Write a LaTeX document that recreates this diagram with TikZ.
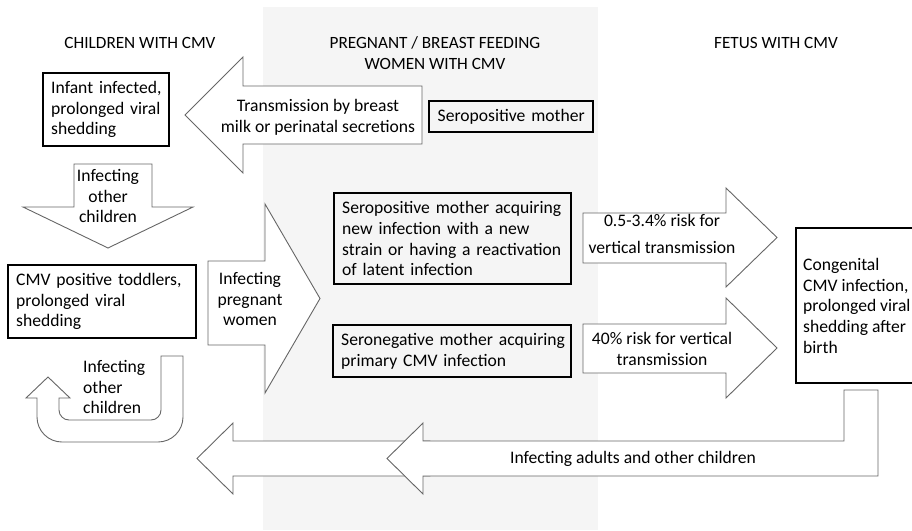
\documentclass[tikz,border=0pt]{standalone}
\usepackage{fontspec}
\setmainfont{Carlito}
\usetikzlibrary{calc}
\hyphenpenalty=10000

\tikzset{
	box/.style={draw=black, line width=2.4pt, inner sep=8pt, align=left, anchor=north west},
	blockarrow/.style={draw=black!60, fill=white, line width=0.9pt},
	arrowtext/.style={align=center, inner sep=0pt},
	headtext/.style={align=center, inner sep=0pt, font=\fontsize{17.2}{20.7}\selectfont},
}

\begin{document}
\begin{tikzpicture}[x=1pt, y=-1pt, font=\fontsize{17.6}{20.7}\selectfont]
		%%%%% START %%%%%
		\useasboundingbox (0,0) rectangle (912,530);
		
		\fill[black!4] (263,7) rectangle (598,530);
		
		\node[headtext] (kids) at (140,43) {CHILDREN WITH CMV};
		\node[headtext] (mothers) at (435,53) {PREGNANT / BREAST FEEDING\\ WOMEN WITH CMV};
		\node[headtext] (fetus) at (776,43) {FETUS WITH CMV};
		
		% block arrows
		\draw[blockarrow] (422,86) -- (243,86) -- (243,57) -- (185,115) -- (243,173) -- (243,144) -- (422,144) -- cycle;
		\draw[blockarrow] (74,164) -- (152,164) -- (152,207) -- (193,207) -- (108,248) -- (23,207) -- (74,207) -- cycle;
		\draw[blockarrow] (208,261) -- (265,261) -- (265,204) -- (320,298.5) -- (265,393) -- (265,345) -- (208,345) -- cycle;
		\draw[blockarrow] (583,213) -- (726,213) -- (726,188) -- (777,237.5) -- (726,287) -- (726,263) -- (583,263) -- cycle;
		\draw[blockarrow] (583,324) -- (726,324) -- (726,298) -- (777,348) -- (726,398) -- (726,373) -- (583,373) -- cycle;
		
		\draw[blockarrow] (430,441) -- (233,441) -- (233,423) -- (197,458.5) -- (233,494) -- (233,476) -- (430,476) -- cycle;
		\draw[blockarrow] (844,390) -- (878,390) -- (878,476) -- (423,476) -- (423,494) -- (387,458.5) -- (423,423) -- (423,441) -- (844,441) -- cycle;
		
		\draw[blockarrow] (161,356) -- (183,356) -- (183,417) .. controls (183,430.8) and (171.8,442) .. (158,442)
			-- (62,442) .. controls (48.2,442) and (37,430.8) .. (37,417) -- (37,398) -- (26,398) -- (48,377) -- (70,398)
			-- (59,398) -- (59,410) .. controls (59,415.5) and (63.5,420) .. (69,420)
			-- (151,420) .. controls (156.5,420) and (161,415.5) .. (161,410) -- cycle;
		
		\node[arrowtext] (breastmilk) at (318,117) {Transmission by breast\\ milk or perinatal secretions};
		\node[arrowtext] (otherkids) at (108,196) {Infecting\\ other\\ children};
		\node[arrowtext] (pregnant) at (250,299) {Infecting\\ pregnant\\ women};
		\node[arrowtext] (lowrisk) at (662,234) {0.5-3.4\% risk for\\[7pt] vertical transmission};
		\node[arrowtext] (highrisk) at (662,349) {40\% risk for vertical\\ transmission};
		\node[arrowtext, align=left, anchor=west] (loopkids) at (83,387) {Infecting\\ other\\ children};
		\node[arrowtext] (adults) at (633,459) {Infecting adults and other children};
		
		% boxes
		\node[box, text width=110pt, minimum height=73pt] (infant) at (42,72) {Infant~infected,\\ prolonged~viral\\ shedding};
		\node[box, text width=172pt, minimum height=72pt] (toddlers) at (7,264) {CMV positive toddlers,\\ prolonged viral\\ shedding};
		\node[box, align=center, text width=148pt, minimum height=30pt] (seropos) at (428,100) {Seropositive~mother};
		\node[box, text width=221pt, minimum height=91pt] (reinfect) at (333,192) {Seropositive~mother~acquiring\\ new infection with a new\\ strain~or~having~a~reactivation\\ of latent infection};
		\node[box, text width=222pt, minimum height=50pt] (primary) at (332,324) {Seronegative~mother~acquiring\\ primary CMV infection};
		% right side of this box runs off the page
		\node[box, minimum width=124pt, minimum height=155pt] (congenital) at (795,227) {};
		\node[arrowtext, align=left, anchor=west] (congenitaltext) at ([xshift=8pt]congenital.west) {Congenital\\ CMV infection,\\ prolonged viral\\ shedding after\\ birth};
		
		%%%%% END %%%%%
	\end{tikzpicture}
\end{document}
